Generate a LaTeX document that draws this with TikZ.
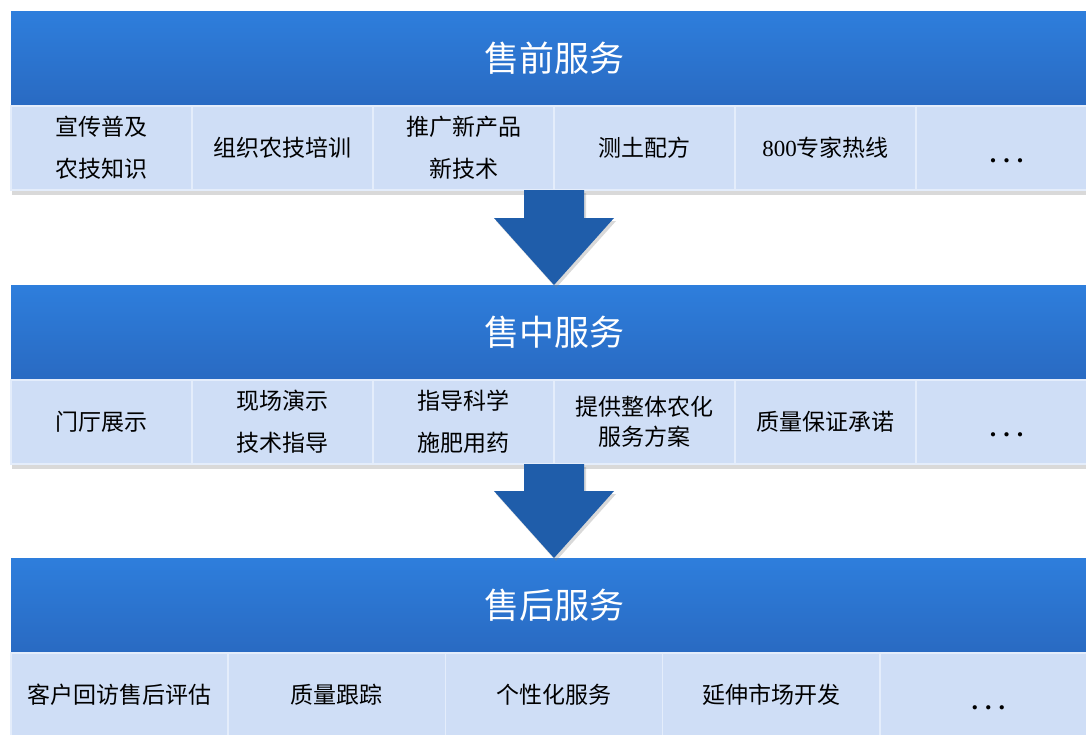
\documentclass[tikz,border=0pt]{standalone}
\usepackage{fontspec}
\setmainfont{Liberation Serif}
\newfontfamily\cjk{Noto Sans CJK SC}
\usetikzlibrary{positioning,shadows,backgrounds}

\definecolor{headtop}{RGB}{46,126,220}
\definecolor{headbottom}{RGB}{41,106,194}
\definecolor{cellblue}{RGB}{207,222,246}
\definecolor{celledge}{RGB}{228,237,251}
\definecolor{arrowblue}{RGB}{31,93,170}

\tikzset{
    headnode/.style={
        rectangle,
        top color=headtop, % 上浅下深的蓝色渐变
        bottom color=headbottom,
        text=white,
        minimum width=1086pt,
        minimum height=95pt,
        inner sep=0,
        outer sep=0,
        font=\cjk\fontsize{35}{40}\selectfont
    },
    cellnode/.style={
        rectangle,
        fill=cellblue, % 浅蓝色格子
        draw=celledge, % 格子之间的浅色分隔线
        line width=1.5pt,
        minimum width=181pt,
        minimum height=84pt,
        inner sep=0,
        outer sep=0,
        align=center,
        font=\cjk\fontsize{23}{42}\selectfont
    },
    widecell/.style={
        cellnode,
        minimum width=217.2pt
    },
    dotsnode/.style={
        text height=30pt,
        text depth=1pt,
        font=\rmfamily\bfseries\fontsize{26}{28}\selectfont
    },
    panelshadow/.style={
        fill=white,
        drop shadow={opacity=0.3, shadow xshift=1pt, shadow yshift=-5pt}
    },
    arrowfill/.style={
        fill=arrowblue,
        drop shadow={opacity=0.3, shadow xshift=2pt, shadow yshift=-3pt}
    }
}

\begin{document}
\begin{tikzpicture}[x=1pt, y=-1pt]
    \clip (0,0) rectangle (1086,734);
    % 售前服务
    \node[headnode, anchor=north west] (pre) at (11,11) {售前服务};
    \node[cellnode, anchor=north west] (pre1) at (pre.south west) {宣传普及\\农技知识};
    \node[cellnode, right=0pt of pre1] (pre2) {组织农技培训};
    \node[cellnode, right=0pt of pre2] (pre3) {推广新产品\\新技术};
    \node[cellnode, right=0pt of pre3] (pre4) {测土配方};
    \node[cellnode, right=0pt of pre4] (pre5) {{\rmfamily 800}专家热线};
    \node[cellnode, dotsnode, right=0pt of pre5] (pre6) {.\hspace{7pt}.\hspace{7pt}.};
    % 售中服务
    \node[headnode, anchor=north west] (mid) at ([yshift=-95pt]pre1.south west) {售中服务};
    \node[cellnode, anchor=north west] (mid1) at (mid.south west) {门厅展示};
    \node[cellnode, right=0pt of mid1] (mid2) {现场演示\\技术指导};
    \node[cellnode, right=0pt of mid2] (mid3) {指导科学\\施肥用药};
    \node[cellnode, right=0pt of mid3] (mid4) {提供整体农化\\[-12pt]服务方案};
    \node[cellnode, right=0pt of mid4] (mid5) {质量保证承诺};
    \node[cellnode, dotsnode, right=0pt of mid5] (mid6) {.\hspace{7pt}.\hspace{7pt}.};
    % 售后服务
    \node[headnode, anchor=north west] (post) at ([yshift=-94pt]mid1.south west) {售后服务};
    \node[widecell, anchor=north west] (post1) at (post.south west) {客户回访售后评估};
    \node[widecell, right=0pt of post1] (post2) {质量跟踪};
    \node[widecell, right=0pt of post2] (post3) {个性化服务};
    \node[widecell, right=0pt of post3] (post4) {延伸市场开发};
    \node[widecell, dotsnode, right=0pt of post4] (post5) {.\hspace{7pt}.\hspace{7pt}.};
    \begin{scope}[on background layer]
        \fill[panelshadow] (pre.north west) rectangle (pre6.south east);
        \fill[panelshadow] (mid.north west) rectangle (mid6.south east);
        \fill[panelshadow] (post.north west) rectangle (post5.south east);
    \end{scope}
    % 向下的箭头
    \fill[arrowfill] ([xshift=-30pt]pre3.south east) -- ([xshift=30pt]pre3.south east)
        -- ([xshift=30pt,yshift=67pt]mid.north) -- ([xshift=60pt,yshift=67pt]mid.north)
        -- (mid.north) -- ([xshift=-60pt,yshift=67pt]mid.north)
        -- ([xshift=-30pt,yshift=67pt]mid.north) -- cycle;
    \fill[arrowfill] ([xshift=-30pt]mid3.south east) -- ([xshift=30pt]mid3.south east)
        -- ([xshift=30pt,yshift=67pt]post.north) -- ([xshift=60pt,yshift=67pt]post.north)
        -- (post.north) -- ([xshift=-60pt,yshift=67pt]post.north)
        -- ([xshift=-30pt,yshift=67pt]post.north) -- cycle;
\end{tikzpicture}
\end{document}
